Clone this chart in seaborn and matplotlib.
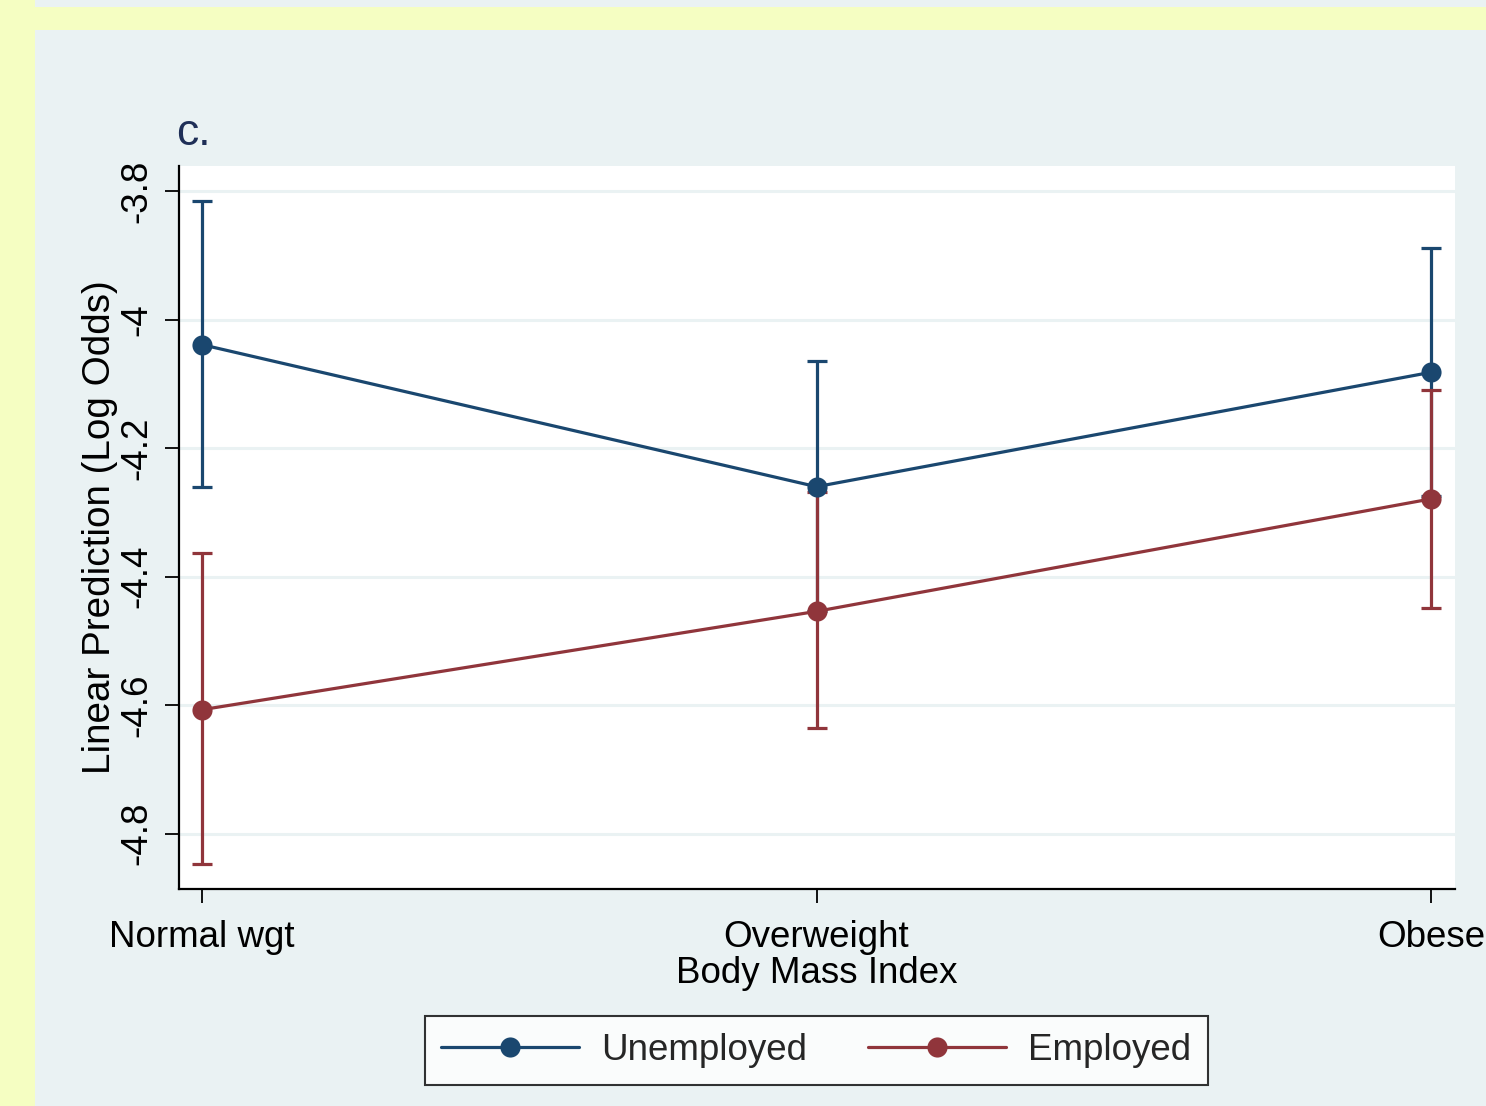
import numpy as np
import pandas as pd
import matplotlib
matplotlib.use("Agg")
import matplotlib.pyplot as plt
import seaborn as sns
from matplotlib.patches import Rectangle
from matplotlib.lines import Line2D

# Predicted log odds by BMI category and employment status, with 95% CIs
bmi_levels = ["Normal wgt", "Overweight", "Obese"]
groups = ["Unemployed", "Employed"]
unemployed_est = [-4.039, -4.260, -4.082]
unemployed_lo = [-4.260, -4.454, -4.275]
unemployed_hi = [-3.815, -4.065, -3.888]
employed_est = [-4.607, -4.454, -4.279]
employed_lo = [-4.847, -4.635, -4.448]
employed_hi = [-4.363, -4.269, -4.110]
y_ticks = [-3.8, -4.0, -4.2, -4.4, -4.6, -4.8]
y_tick_labels = ["-3.8", "-4", "-4.2", "-4.4", "-4.6", "-4.8"]

BG = "#EAF2F3"
YELLOW = "#F5FEC2"
NAVY = "#1A476F"
MAROON = "#90353B"
colors = {"Unemployed": NAVY, "Employed": MAROON}

rows = []
for g, est, lo, hi in [("Unemployed", unemployed_est, unemployed_lo, unemployed_hi),
                       ("Employed", employed_est, employed_lo, employed_hi)]:
    for i, lvl in enumerate(bmi_levels):
        rows.append({"pos": i, "bmi": lvl, "group": g,
                     "est": est[i], "lo": lo[i], "hi": hi[i]})
df = pd.DataFrame(rows)

sns.set_theme(style="white")
plt.rcParams["font.family"] = ["Liberation Sans", "DejaVu Sans"]

W, H = 1486, 1106
fig = plt.figure(figsize=(W / 100, H / 100), dpi=100, facecolor=BG)

# yellow outer border strips
fig.patches.append(Rectangle((0, 0), 35 / W, 1, transform=fig.transFigure,
                             facecolor=YELLOW, edgecolor="none", zorder=-1))
fig.patches.append(Rectangle((0, 1 - 30 / H), 1, 23 / H, transform=fig.transFigure,
                             facecolor=YELLOW, edgecolor="none", zorder=-1))

ax = fig.add_axes([179 / W, 1 - 889 / H, (1455 - 179) / W, (889 - 166) / H])
ax.set_facecolor("white")

# confidence intervals first, then connected estimates on top
for g in groups:
    d = df[df.group == g]
    ax.errorbar(d.pos, d.est, yerr=[d.est - d.lo, d.hi - d.est], fmt="none",
                ecolor=colors[g], elinewidth=2.3, capsize=7, capthick=2.3, zorder=2)

sns.lineplot(data=df, x="pos", y="est", hue="group", hue_order=groups,
             palette=colors, marker="o", markersize=14.5, markeredgewidth=0,
             linewidth=2.3, sort=False, legend=False, ax=ax, zorder=3)

ax.set_xlim(-0.0374, 2.039)
ax.set_ylim(-4.886, -3.761)
ax.set_xticks(range(len(bmi_levels)))
ax.set_xticklabels(bmi_levels)
ax.set_yticks(y_ticks)
ax.set_yticklabels(y_tick_labels, rotation=90, va="center")

ax.grid(axis="y", color=BG, linewidth=2.2)
ax.grid(axis="x", visible=False)
ax.set_axisbelow(True)

for s in ["top", "right"]:
    ax.spines[s].set_visible(False)
for s in ["left", "bottom"]:
    ax.spines[s].set_color("black")
    ax.spines[s].set_linewidth(1.6)

ax.tick_params(axis="both", direction="out", length=10, width=1.3, color="black",
               labelsize=26.5, labelcolor="black", left=True, bottom=True)
ax.tick_params(axis="x", pad=12)
ax.tick_params(axis="y", pad=8)

ax.set_xlabel("Body Mass Index", fontsize=26.5, color="black", labelpad=1)
ax.set_ylabel("Linear Prediction (Log Odds)", fontsize=27.8, color="black", labelpad=1)

fig.text(176 / W, 1 - 145 / H, "c.", fontsize=32, color="#1F2F57",
         ha="left", va="baseline")

handles = [Line2D([0], [0], color=colors[g], linewidth=2.3, marker="o",
                  markersize=14.5, markeredgewidth=0) for g in groups]
leg = fig.legend(handles, groups, loc="center", bbox_to_anchor=(816.5 / W, 1 - 1050.5 / H),
                 ncol=2, fontsize=26.5, frameon=True, fancybox=False, shadow=False,
                 handlelength=3.75, handletextpad=0.6, columnspacing=1.65,
                 borderpad=0.45)
leg.get_frame().set_edgecolor("black")
leg.get_frame().set_linewidth(1.5)
leg.get_frame().set_facecolor("white")

fig.savefig("out.png", dpi=100, facecolor=BG)
